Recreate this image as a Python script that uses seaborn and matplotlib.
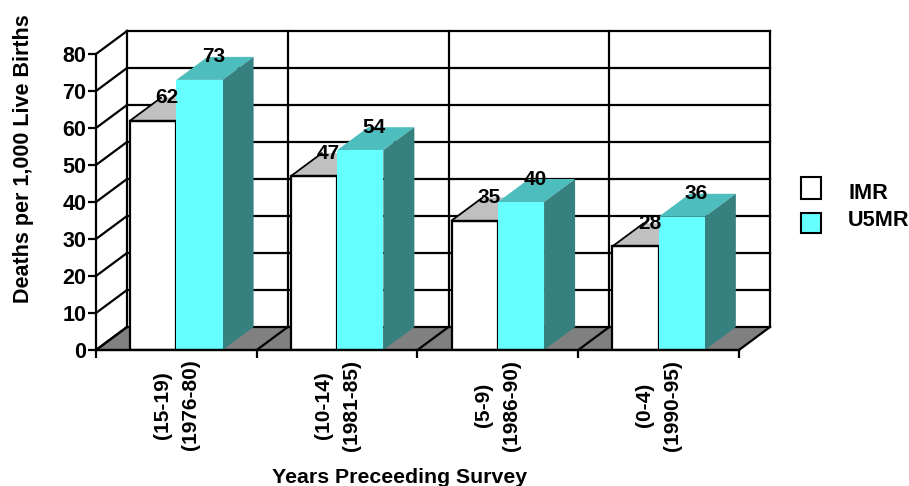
import matplotlib
matplotlib.use("Agg")
import matplotlib.pyplot as plt
from matplotlib.patches import Rectangle
import pandas as pd
import seaborn as sns

# Mortality rates by period before the survey
periods = ["(15-19)\n(1976-80)", "(10-14)\n(1981-85)", "(5-9)\n(1986-90)", "(0-4)\n(1990-95)"]
imr = [62, 47, 35, 28]
u5mr = [73, 54, 40, 36]
series_names = ["IMR", "U5MR"]
y_ticks = [0, 10, 20, 30, 40, 50, 60, 70, 80]

FW, FH = 909, 486
FONT = "Liberation Sans"
WHITE, CYAN, CYAN_TOP, CYAN_SIDE = "#FFFFFF", "#66FFFF", "#4DBDBD", "#368080"
GREY_TOP, FLOOR = "#C0C0C0", "#808080"

sns.set_theme(style="white", rc={"font.family": FONT, "text.color": "black",
                                 "xtick.color": "black", "ytick.color": "black",
                                 "axes.labelcolor": "black"})

# Plot box in pixels: front panel runs 96..738 wide, 350..54 tall; the back wall sits up and right
LEFT, RIGHT, BOTTOM, TOP = 96, 770, 350, 31
fig = plt.figure(figsize=(FW / 100, FH / 100), dpi=100)
ax = fig.add_axes([LEFT / FW, 1 - BOTTOM / FH, (RIGHT - LEFT) / FW, (BOTTOM - TOP) / FH])
ax.patch.set_alpha(0)

long = pd.DataFrame({
    "period": periods * 2,
    "rate": imr + u5mr,
    "series": [series_names[0]] * 4 + [series_names[1]] * 4,
})
sns.barplot(data=long, x="period", y="rate", hue="series", order=periods, hue_order=series_names,
            palette=[WHITE, CYAN], width=0.575, dodge=True, gap=0, saturation=1, legend=False, ax=ax)

unit_x = (738.5 - 96) / 4
unit_y = 3.7
dx = 31 / unit_x
dy = 23 / unit_y
x0, x1 = -0.5, 3.5
ymax = y_ticks[-1]
ax.set_xlim(x0, x1 + dx)
ax.set_ylim(0, ymax + dy)

# Back wall, left wall and floor
LW = 1.6
line = dict(color="black", lw=LW, zorder=2, clip_on=False, solid_capstyle="projecting")
ax.fill([x0, x1, x1 + dx, x0 + dx], [0, 0, dy, dy], color=FLOOR, lw=0, zorder=1.5)
for t in y_ticks:
    ax.plot([x0 + dx, x1 + dx], [t + dy, t + dy], **line)
    ax.plot([x0, x0 + dx], [t, t + dy], **line)
for i in range(len(periods) + 1):
    ax.plot([x0 + dx + i, x0 + dx + i], [dy, ymax + dy], **line)
    ax.plot([x0 + i, x0 + i + dx], [0, dy], **line)

# Front faces come from seaborn; tops and sides extend them into the depth
for j, (container, values) in enumerate(zip(ax.containers, (imr, u5mr))):
    for bar, v in zip(container, values):
        z = 3 + j
        bar.set_zorder(z + 0.2)
        if j == 0:
            bar.set_edgecolor("black")
            bar.set_linewidth(LW)
        else:
            bar.set_edgecolor("none")
            bar.set_linewidth(0)
        l, r = bar.get_x(), bar.get_x() + bar.get_width()
        top_colour = GREY_TOP if j == 0 else CYAN_TOP
        ax.fill([l, r, r + dx, l + dx], [v, v, v + dy, v + dy], color=top_colour, lw=0, zorder=z)
        ax.fill([r, r + dx, r + dx, r], [0, dy, v + dy, v], color=CYAN_SIDE if j else GREY_TOP, lw=0, zorder=z)
        if j == 0:
            ax.plot([l, r], [v, v], color="black", lw=LW, zorder=z + 0.3)
            ax.plot([l, l + dx], [v, v + dy], color="black", lw=LW * 0.8, zorder=z + 0.1)
        ax.text((l + r) / 2 + dx / 2 - 1.5 / unit_x, v + dy, str(v), ha="center", va="center", fontsize=15,
                fontweight="bold", family=FONT, color="black", zorder=6)

ax.plot([x0, x1], [0, 0], color="black", lw=LW, zorder=5.5, clip_on=False)

# Axes furniture
for side in ("top", "right"):
    ax.spines[side].set_visible(False)
ax.spines["left"].set_bounds(0, ymax)
ax.spines["bottom"].set_bounds(x0, x1)
for side in ("left", "bottom"):
    ax.spines[side].set_color("black")
    ax.spines[side].set_linewidth(LW)
    ax.spines[side].set_zorder(5.5)
ax.set_yticks(y_ticks)
ax.set_yticklabels([str(t) for t in y_ticks], fontsize=15.5, fontweight="bold", family=FONT)
ax.set_xticks([x0 + i for i in range(len(periods) + 1)])
ax.set_xticklabels([])
ax.set_xticks(range(len(periods)), minor=True)
ax.set_xticklabels(periods, minor=True, rotation=90, fontsize=15, fontweight="bold", family=FONT,
                   ha="center", va="top", multialignment="center", rotation_mode="default",
                   linespacing=1.6)
ax.tick_params(axis="both", which="major", length=6, width=LW, color="black", left=True, bottom=True, pad=1)
ax.tick_params(axis="x", which="minor", length=0, pad=7, bottom=False)
ax.set_xlabel("")
ax.set_ylabel("")

fig.text(400 / FW, 1 - 477.5 / FH, "Years Preceeding Survey", ha="center", va="center",
         fontsize=15.3, fontweight="bold", family=FONT)
fig.text(24 / FW, 1 - 159 / FH, "Deaths per 1,000 Live Births", rotation=90, ha="center", va="center",
         fontsize=15.5, fontweight="bold", family=FONT)

# Legend keys and names
for (name, colour, key_top, key_h, text_y) in zip(series_names, (WHITE, CYAN), (177, 213), (22, 20), (193, 221)):
    fig.add_artist(Rectangle((801 / FW, 1 - (key_top + key_h) / FH), 20 / FW, key_h / FH,
                             transform=fig.transFigure, facecolor=colour, edgecolor="black", lw=1.5))
    fig.text(848 / FW, 1 - text_y / FH, name, ha="left", va="center", fontsize=15.6,
             fontweight="bold", family=FONT)

fig.savefig("out.png", dpi=100)
